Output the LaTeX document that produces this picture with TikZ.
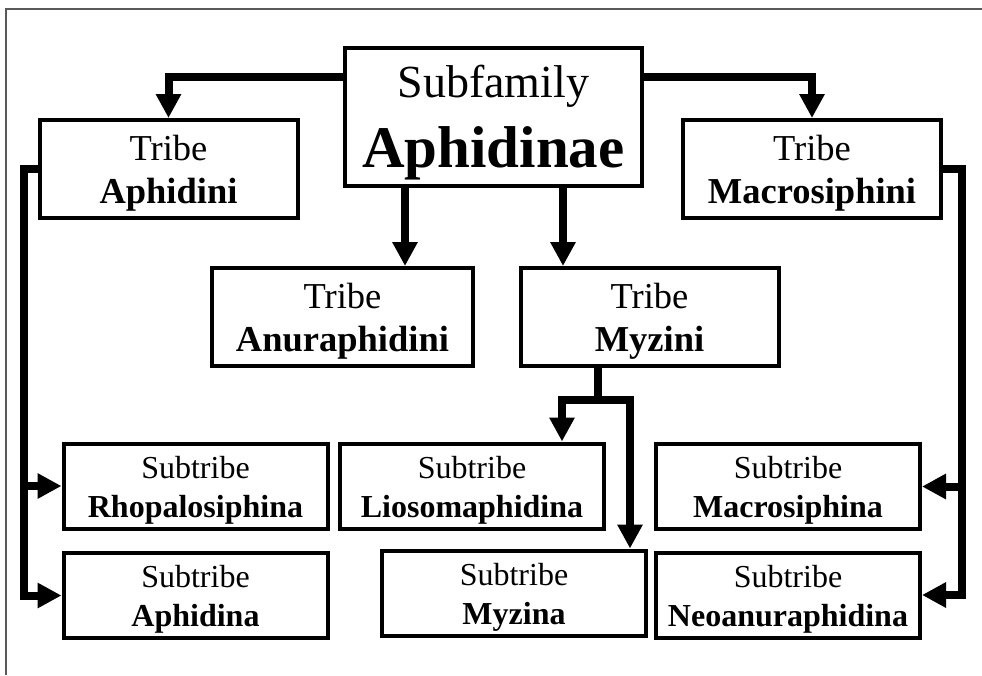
\documentclass[tikz,border=0pt]{standalone}
\usepackage{fontspec}
\setmainfont{Liberation Serif}
\usetikzlibrary{arrows.meta}

\tikzset{
  box/.style={draw=black, line width=4pt, rectangle, inner sep=0pt, fill=white},
  tribebox/.style={box, minimum width=258pt, minimum height=98pt},
  subbox/.style={box, minimum width=264pt, minimum height=85pt},
  txt/.style={anchor=base, inner sep=0pt},
  tribetxt/.style={txt, font=\fontsize{36.5}{43}\selectfont},
  tribebold/.style={tribetxt, font=\fontsize{36.5}{43}\selectfont\bfseries},
  subtxt/.style={txt, font=\fontsize{32}{38}\selectfont},
  subbold/.style={subtxt, font=\fontsize{32}{38}\selectfont\bfseries},
  conn/.style={line width=8pt, line join=miter,
    -{Triangle[width=24pt,length=24pt]}},
  bus/.style={line width=8pt, line join=miter},
  frameline/.style={draw=black!65, line width=1.5pt}
}

% two-line caption of a tribe box
\newcommand\tribelabel[3]{%
  \node[tribetxt] (#1-rank) at ([yshift=8.5pt]#1.center) {#2};
  \node[tribebold] (#1-name) at ([yshift=-34.5pt]#1.center) {#3};}
% two-line caption of a subtribe box
\newcommand\sublabel[3]{%
  \node[subtxt] (#1-rank) at ([yshift=8pt]#1.center) {#2};
  \node[subbold] (#1-name) at ([yshift=-31pt]#1.center) {#3};}

\begin{document}
\begin{tikzpicture}[x=1pt, y=-1pt]
  \useasboundingbox (0,0) rectangle (982,675);

  % outer frame (top and left edges only)
  \draw[frameline] (6,675) -- (6,9) -- (982,9);

  % subfamily
  \node[box, minimum width=297pt, minimum height=138pt] (sub) at (493.5,117) {};
  \node[txt, font=\fontsize{46}{50}\selectfont] (sub-rank) at ([yshift=20pt]sub.center) {Subfamily};
  \node[txt, font=\fontsize{59}{60}\selectfont\bfseries] (sub-name) at ([yshift=-50pt]sub.center) {Aphidinae};

  % tribes
  \node[tribebox] (aph) at (168.5,169) {};
  \node[tribebox] (mac) at (812,169) {};
  \node[tribebox, minimum width=261pt] (anu) at (342.5,317) {};
  \node[tribebox] (myz) at (649.5,317) {};
  \tribelabel{aph}{Tribe}{Aphidini}
  \tribelabel{mac}{Tribe}{Macrosiphini}
  \tribelabel{anu}{Tribe}{Anuraphidini}
  \tribelabel{myz}{Tribe}{Myzini}

  % subtribes
  \node[subbox] (rho) at (195.5,486) {};
  \node[subbox] (aphina) at (195.5,595.5) {};
  \node[subbox] (lio) at (472,486) {};
  \node[subbox] (myzina) at (514,593) {};
  \node[subbox] (macina) at (788,486.5) {};
  \node[subbox] (neo) at (788,595) {};
  \sublabel{rho}{Subtribe}{Rhopalosiphina}
  \sublabel{aphina}{Subtribe}{Aphidina}
  \sublabel{lio}{Subtribe}{Liosomaphidina}
  \sublabel{myzina}{Subtribe}{Myzina}
  \sublabel{macina}{Subtribe}{Macrosiphina}
  \sublabel{neo}{Subtribe}{Neoanuraphidina}

  % helper positions for the bus lines
  \coordinate (lbus) at (24,0);
  \coordinate (rbus) at (962,0);
  \coordinate (xanu) at (405,0);
  \coordinate (xmyz) at (563,0);
  \coordinate (xmz) at (598,400);
  \coordinate (xlio) at (562,0);
  \coordinate (xmyzina) at (630,0);

  % subfamily -> tribes
  \draw[conn] ([yshift=-31pt]sub.north west) -| (aph.north);
  \draw[conn] ([yshift=-31pt]sub.north east) -| (mac.north);
  \draw[conn] (sub.south -| xanu) -- (anu.north -| xanu);
  \draw[conn] (sub.south -| xmyz) -- (myz.north -| xmyz);

  % Aphidini -> subtribes
  \draw[conn] (aph.west) -- (aph.west -| lbus) -- (lbus |- aphina.west) -- (aphina.west);
  \draw[conn] (lbus |- rho.west) -- (rho.west);

  % Macrosiphini -> subtribes
  \draw[conn] (mac.east) -- (mac.east -| rbus) -- (rbus |- neo.east) -- (neo.east);
  \draw[conn] (rbus |- macina.east) -- (macina.east);

  % Myzini -> subtribes
  \draw[bus] (myz.south -| xmz) -- (xmz);
  \draw[conn] (xmz) -- (xmz -| xlio) -- (lio.north -| xlio);
  \draw[conn] (xmz) -- (xmz -| xmyzina) -- (myzina.north -| xmyzina);
\end{tikzpicture}
\end{document}
